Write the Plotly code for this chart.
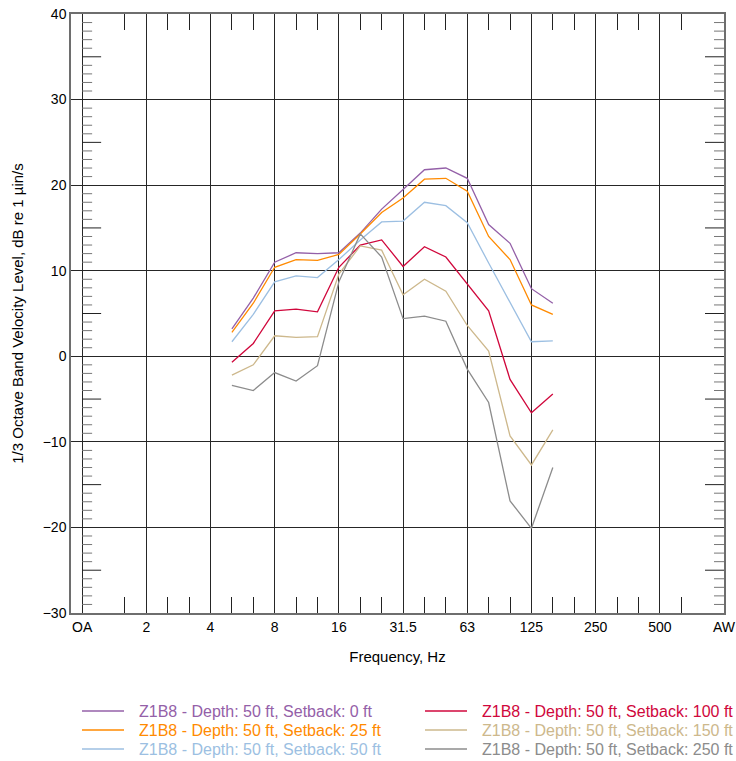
import plotly.graph_objects as go

# One-third-octave band axis: overall level, nominal band centres, A-weighted
band_labels = ["OA", "1.25", "1.6", "2", "2.5", "3.15", "4", "5", "6.3", "8", "10",
               "12.5", "16", "20", "25", "31.5", "40", "50", "63", "80", "100",
               "125", "160", "200", "250", "315", "400", "500", "630", "800", "AW"]
labelled_bands = ["OA", "2", "4", "8", "16", "31.5", "63", "125", "250", "500", "AW"]
unticked_bands = ["1.25", "800"]

# Measured bands (Hz)
freqs = ["5", "6.3", "8", "10", "12.5", "16", "20", "25", "31.5", "40",
         "50", "63", "80", "100", "125", "160"]

setback_0 = [3.2, 6.8, 11.0, 12.1, 12.0, 12.1, 14.4, 17.2, 19.5, 21.8, 22.0, 20.8, 15.4, 13.2, 7.9, 6.2]
setback_25 = [2.8, 6.2, 10.4, 11.3, 11.2, 11.9, 14.3, 16.8, 18.5, 20.7, 20.8, 19.3, 14.0, 11.3, 6.0, 4.9]
setback_50 = [1.7, 4.9, 8.7, 9.4, 9.2, 11.3, 13.6, 15.7, 15.8, 18.0, 17.6, 15.6, 10.9, 6.3, 1.7, 1.8]
setback_100 = [-0.7, 1.5, 5.3, 5.5, 5.2, 10.4, 13.0, 13.6, 10.5, 12.8, 11.6, 8.5, 5.3, -2.7, -6.6, -4.4]
setback_150 = [-2.2, -1.0, 2.4, 2.2, 2.3, 9.6, 12.9, 12.4, 7.2, 9.0, 7.6, 3.6, 0.6, -9.3, -12.7, -8.6]
setback_250 = [-3.4, -4.0, -1.9, -2.9, -1.1, 8.7, 14.3, 11.6, 4.4, 4.7, 4.1, -1.5, -5.4, -16.9, -20.1, -13.0]

series_names = ["Z1B8 - Depth: 50 ft, Setback: 0 ft",
                "Z1B8 - Depth: 50 ft, Setback: 25 ft",
                "Z1B8 - Depth: 50 ft, Setback: 50 ft",
                "Z1B8 - Depth: 50 ft, Setback: 100 ft",
                "Z1B8 - Depth: 50 ft, Setback: 150 ft",
                "Z1B8 - Depth: 50 ft, Setback: 250 ft"]
series_values = [setback_0, setback_25, setback_50, setback_100, setback_150, setback_250]
series_colors = ["#9460A8", "#FF8A00", "#9CBFE2", "#D0073C", "#CDB88C", "#8C8C8C"]

FONT = "Arial, Liberation Sans, sans-serif"
W, H = 736, 761
M_L, M_R, M_T, M_B = 71, 12, 14, 148
x_min, x_max = -0.52, len(band_labels) - 1
y_min, y_max = -30, 40

xpos = [band_labels.index(f) for f in freqs]
major_x = [band_labels.index(b) for b in labelled_bands]
minor_x = [i for i, b in enumerate(band_labels)
           if i not in major_x and b not in unticked_bands]
oa_x = band_labels.index("OA")
aw_x = band_labels.index("AW")

fig = go.Figure()
for name, vals, color in zip(series_names, series_values, series_colors):
    fig.add_trace(go.Scatter(
        x=xpos, y=vals, mode="lines", name=name,
        line=dict(color=color, width=1.3), hoverinfo="skip",
    ))

grid = "#262626"
frame = "#6e6e6e"

shapes = []
# 1 dB / 5 dB tick marks hung on the OA and AW lines
for v in range(y_min + 1, y_max):
    if v % 10 == 0:
        continue
    long_tick = v % 5 == 0
    length = 19 if long_tick else 10
    col = "#222" if long_tick else "#777"
    for anchor, sign in ((oa_x, 1), (aw_x, -1)):
        shapes.append(dict(
            type="line", xref="x", yref="y", xsizemode="pixel", xanchor=anchor,
            x0=0, x1=sign * length, y0=v, y1=v,
            line=dict(color=col, width=1), layer="above",
        ))

# Legend drawn as two columns of swatch + coloured label
plot_w = W - M_L - M_R
plot_h = H - M_T - M_B


def px_x(px):
    return (px - M_L) / plot_w


def px_y(py):
    return (H - M_B - py) / plot_h


annotations = []
col_x = [(82, 124, 137), (425, 467, 480)]
row_y = [711, 730, 749]
for i, (name, color) in enumerate(zip(series_names, series_colors)):
    c, r = divmod(i, 3)
    x0, x1, tx = col_x[c]
    yy = row_y[r]
    shapes.append(dict(
        type="line", xref="paper", yref="paper",
        x0=px_x(x0), x1=px_x(x1), y0=px_y(yy), y1=px_y(yy),
        line=dict(color=color, width=1.3),
    ))
    annotations.append(dict(
        xref="paper", yref="paper", x=px_x(tx), y=px_y(yy),
        xanchor="left", yanchor="middle", showarrow=False,
        text=name, font=dict(family=FONT, size=16, color=color),
    ))

fig.update_layout(
    width=W, height=H,
    margin=dict(l=M_L, r=M_R, t=M_T, b=M_B, autoexpand=False),
    paper_bgcolor="white", plot_bgcolor="white",
    font=dict(family=FONT, size=14, color="#000"),
    showlegend=False,
    xaxis=dict(
        range=[x_min, x_max],
        tickmode="array", tickvals=major_x, ticktext=labelled_bands,
        showgrid=True, gridcolor=grid, gridwidth=1,
        ticks="inside", ticklen=16, tickcolor=grid,
        minor=dict(tickmode="array", tickvals=minor_x, ticks="inside",
                   ticklen=16, tickcolor="#222", tickwidth=1, showgrid=False),
        showline=True, linecolor=frame, linewidth=1.5, mirror="ticks",
        zeroline=False, tickfont=dict(size=14),
        title=dict(text="Frequency, Hz", font=dict(size=15), standoff=18),
    ),
    yaxis=dict(
        range=[y_min, y_max], dtick=10, tick0=0,
        showgrid=True, gridcolor=grid, gridwidth=1,
        ticks="", showline=True, linecolor=frame, linewidth=1.5, mirror=True,
        zeroline=False, tickfont=dict(size=14),
        title=dict(text="1/3 Octave Band Velocity Level, dB re 1 \u00b5in/s",
                   font=dict(size=15), standoff=15),
    ),
    shapes=shapes,
    annotations=annotations,
)

fig.write_html("out.html")
